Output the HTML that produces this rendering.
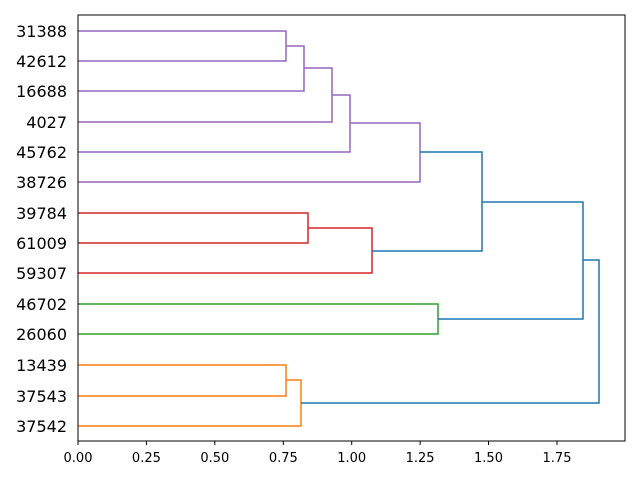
<!DOCTYPE html>
<html><head><meta charset="utf-8"><style>body{margin:0;background:#fff}</style></head><body>
<svg width="640" height="480" xmlns="http://www.w3.org/2000/svg" font-family="DejaVu Sans, Liberation Sans, sans-serif">
<rect width="640" height="480" fill="#fff"/>
<g fill="none" stroke-width="1.5">
<g stroke="#9467bd">
<polyline points="78,31 286,31 286,61 78,61"/>
<polyline points="286,46 304,46 304,91 78,91"/>
<polyline points="304,68 332,68 332,122 78,122"/>
<polyline points="332,95 350,95 350,152 78,152"/>
<polyline points="350,123 420,123 420,182 78,182"/>
</g>
<g stroke="#d62728">
<polyline points="78,213 308,213 308,243 78,243"/>
<polyline points="308,228 372,228 372,273 78,273"/>
</g>
<g stroke="#2ca02c">
<polyline points="78,304 438,304 438,334 78,334"/>
</g>
<g stroke="#ff7f0e">
<polyline points="78,365 286,365 286,396 78,396"/>
<polyline points="286,380 301,380 301,426 78,426"/>
</g>
<g stroke="#1f77b4">
<polyline points="420,152 482,152 482,251 372,251"/>
<polyline points="482,202 583,202 583,319 438,319"/>
<polyline points="583,260 599,260 599,403 301,403"/>
</g>
</g>
<rect x="78" y="15" width="547" height="426" fill="none" stroke="#000" stroke-width="1"/>
<g stroke="#000" stroke-width="1">
<line x1="78" y1="441" x2="78" y2="445"/><line x1="146.4" y1="441" x2="146.4" y2="445"/><line x1="214.8" y1="441" x2="214.8" y2="445"/><line x1="283.3" y1="441" x2="283.3" y2="445"/><line x1="351.7" y1="441" x2="351.7" y2="445"/><line x1="420.1" y1="441" x2="420.1" y2="445"/><line x1="488.5" y1="441" x2="488.5" y2="445"/><line x1="557" y1="441" x2="557" y2="445"/>
</g>
<g font-size="13" text-anchor="middle" fill="#000">
<text x="78" y="462">0.00</text><text x="146.4" y="462">0.25</text><text x="214.8" y="462">0.50</text><text x="283.3" y="462">0.75</text><text x="351.7" y="462">1.00</text><text x="420.1" y="462">1.25</text><text x="488.5" y="462">1.50</text><text x="557" y="462">1.75</text>
</g>
<g font-size="16" text-anchor="end" fill="#000">
<text x="67" y="37">31388</text><text x="67" y="67">42612</text><text x="67" y="97">16688</text><text x="67" y="128">4027</text><text x="67" y="158">45762</text><text x="67" y="188">38726</text><text x="67" y="219">39784</text><text x="67" y="249">61009</text><text x="67" y="279">59307</text><text x="67" y="310">46702</text><text x="67" y="340">26060</text><text x="67" y="371">13439</text><text x="67" y="402">37543</text><text x="67" y="432">37542</text>
</g>
</svg>
</body></html>
